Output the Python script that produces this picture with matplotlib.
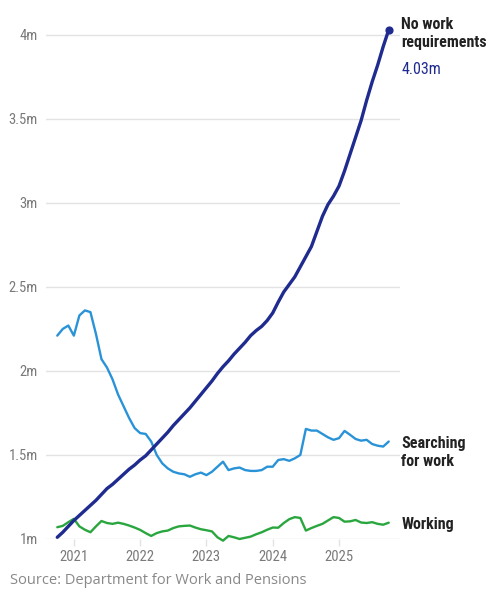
"""
Universal Credit claimants by conditionality group, Oct 2020 - Oct 2025.
"""

import pandas as pd
import matplotlib.pyplot as plt
from matplotlib import font_manager

# Monthly values, millions
months = pd.date_range('2020-10-01', '2025-10-01', freq='MS')

no_work_requirements = [
    1.01, 1.04, 1.075, 1.11, 1.14, 1.17, 1.20, 1.23, 1.265, 1.30,
    1.325, 1.355, 1.385, 1.415, 1.44, 1.47, 1.495, 1.53, 1.565, 1.60,
    1.635, 1.675, 1.71, 1.745, 1.78, 1.82, 1.86, 1.90, 1.94, 1.985,
    2.025, 2.06, 2.10, 2.135, 2.17, 2.21, 2.24, 2.265, 2.30, 2.345,
    2.41, 2.47, 2.515, 2.56, 2.62, 2.68, 2.74, 2.83, 2.92, 2.99,
    3.04, 3.10, 3.19, 3.29, 3.39, 3.49, 3.61, 3.72, 3.82, 3.93,
    4.03,
]

searching_for_work = [
    2.21, 2.25, 2.27, 2.21, 2.33, 2.36, 2.35, 2.22, 2.07, 2.02,
    1.95, 1.86, 1.79, 1.72, 1.66, 1.63, 1.625, 1.58, 1.50, 1.45,
    1.42, 1.40, 1.39, 1.385, 1.37, 1.385, 1.395, 1.38, 1.40, 1.43,
    1.46, 1.41, 1.42, 1.425, 1.41, 1.405, 1.405, 1.41, 1.43, 1.43,
    1.47, 1.475, 1.465, 1.48, 1.50, 1.655, 1.645, 1.645, 1.625, 1.605,
    1.59, 1.60, 1.643, 1.62, 1.595, 1.585, 1.59, 1.565, 1.555, 1.55,
    1.58,
]

working = [
    1.07, 1.078, 1.10, 1.12, 1.075, 1.055, 1.04, 1.075, 1.107, 1.095,
    1.09, 1.097, 1.09, 1.08, 1.068, 1.054, 1.035, 1.018, 1.035, 1.045,
    1.05, 1.065, 1.075, 1.078, 1.08, 1.068, 1.058, 1.052, 1.045, 1.01,
    0.99, 1.018, 1.01, 1.00, 1.007, 1.014, 1.028, 1.04, 1.055, 1.068,
    1.067, 1.095, 1.118, 1.13, 1.125, 1.05, 1.065, 1.078, 1.09, 1.11,
    1.13, 1.125, 1.103, 1.105, 1.113, 1.098, 1.095, 1.10, 1.09, 1.085,
    1.097,
]

y_ticks = [1, 1.5, 2, 2.5, 3, 3.5, 4]
y_tick_labels = ['1m', '1.5m', '2m', '2.5m', '3m', '3.5m', '4m']
x_ticks = [2021, 2022, 2023, 2024, 2025]

NAVY = '#1f2b8f'
BLUE = '#2a93d8'
GREEN = '#2aa63f'
GREY_TEXT = '#7a7a7a'
GRID = '#e3e3e3'


def pick_font(candidates):
    """Return the first installed family from the candidates."""
    installed = {f.name for f in font_manager.fontManager.ttflist}
    for name in candidates:
        if name in installed:
            return name
    return 'DejaVu Sans'


narrow = pick_font(['Liberation Sans Narrow', 'Roboto Condensed', 'DejaVu Sans Condensed', 'Roboto'])
body = pick_font(['Open Sans', 'Lato', 'Roboto'])

x = months.year + (months.month - 1) / 12.0

fig = plt.figure(figsize=(4.99, 6.0), dpi=100)
ax = fig.add_axes([0.0922, 0.1017, 0.7094, 0.8683])

line_kw = dict(clip_on=False, solid_joinstyle='round', solid_capstyle='round')
ax.plot(x, working, color=GREEN, lw=1.7, zorder=3, **line_kw)
ax.plot(x, searching_for_work, color=BLUE, lw=1.7, zorder=3, **line_kw)
ax.plot(x, no_work_requirements, color=NAVY, lw=2.4, zorder=4, **line_kw)
ax.scatter([x[-1]], [no_work_requirements[-1]], s=24, color=NAVY, zorder=5, clip_on=False)

ax.set_xlim(2020.58, 2025.92)
ax.set_ylim(1.0, 4.1)
ax.set_yticks(y_ticks)
ax.set_yticklabels(y_tick_labels)
ax.set_xticks(x_ticks)
ax.set_xticklabels([str(t) for t in x_ticks])

ax.grid(axis='y', color=GRID, lw=1.0)
ax.set_axisbelow(True)
for side in ['top', 'right', 'left', 'bottom']:
    ax.spines[side].set_visible(False)

ax.tick_params(axis='y', length=0, pad=6, labelsize=10.5, labelcolor=GREY_TEXT)
ax.tick_params(axis='x', length=5, width=1, color=GRID, pad=3,
               labelsize=10.5, labelcolor=GREY_TEXT)
for lab in ax.get_xticklabels() + ax.get_yticklabels():
    lab.set_fontfamily(narrow)

# Line labels at the right end
ax.annotate('No work\nrequirements', xy=(x[-1], no_work_requirements[-1]),
            xytext=(9, 9), textcoords='offset points', ha='left', va='top',
            fontsize=11.5, fontweight='bold', color='#222222', family=narrow,
            linespacing=1.2, annotation_clip=False)
ax.annotate('4.03m', xy=(x[-1], no_work_requirements[-1]),
            xytext=(9, -23), textcoords='offset points', ha='left', va='top',
            fontsize=11.5, color=NAVY, family=narrow, annotation_clip=False)
ax.annotate('Searching\nfor work', xy=(x[-1], searching_for_work[-1]),
            xytext=(9, -8), textcoords='offset points', ha='left', va='center',
            fontsize=11.5, fontweight='bold', color='#222222', family=narrow,
            linespacing=1.2, annotation_clip=False)
ax.annotate('Working', xy=(x[-1], working[-1]),
            xytext=(9, -1), textcoords='offset points', ha='left', va='center',
            fontsize=11.5, fontweight='bold', color='#222222', family=narrow,
            annotation_clip=False)

fig.text(0.02, 0.033, 'Source: Department for Work and Pensions', ha='left', va='center',
         fontsize=10.5, color='#888888', family=body)

fig.savefig('out.png', dpi=100)
plt.close(fig)
